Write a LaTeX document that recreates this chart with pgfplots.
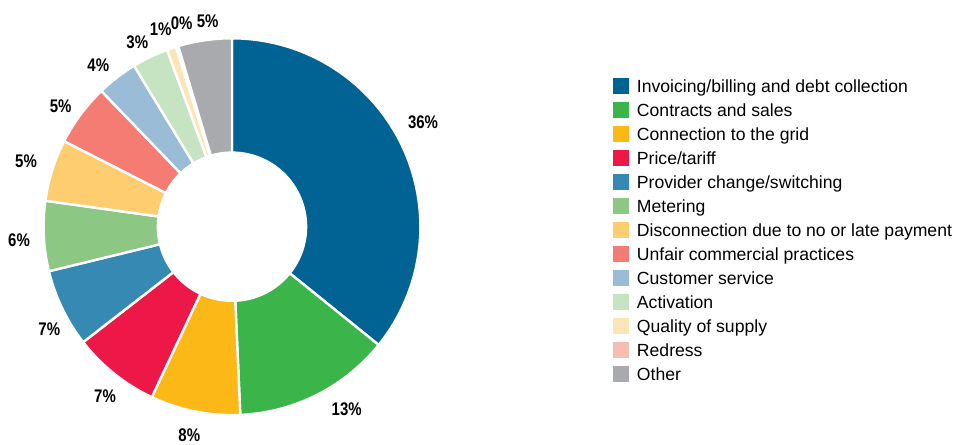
\documentclass[border=0pt]{standalone}
\usepackage{fontspec}
\setmainfont{Liberation Sans}
\newfontfamily\narrowbold[FakeStretch=0.82]{Liberation Sans Bold}
\usepackage{pgfplots}
\usepackage{pgfplotstable}
\pgfplotsset{compat=1.18}

\definecolor{c1}{HTML}{006394}
\definecolor{c2}{HTML}{3BB54A}
\definecolor{c3}{HTML}{FBB817}
\definecolor{c4}{HTML}{ED1847}
\definecolor{c5}{HTML}{3689B3}
\definecolor{c6}{HTML}{8CC884}
\definecolor{c7}{HTML}{FECD6F}
\definecolor{c8}{HTML}{F47C72}
\definecolor{c9}{HTML}{9ABCD7}
\definecolor{c10}{HTML}{C7E4C2}
\definecolor{c11}{HTML}{FEE5B7}
\definecolor{c12}{HTML}{F7BDB1}
\definecolor{c13}{HTML}{A9AAAE}

% label positions (chart pixel units, y upwards)
\pgfplotstableread{
x y lab
423 323.5 36\%
346.7 35.7 13\%
189.3 10 8\%
105 49 7\%
49.3 115.7 7\%
19 205 6\%
26 284.3 5\%
60.7 339 5\%
98.3 380 4\%
137.3 403.3 3\%
160.7 415.7 1\%
181.7 422.3 0\%
207.7 424.3 5\%
}\labeltable

\def\cum{0}
% t = 0..50: outer arc from start to end; t = 51..101: inner arc back
\newcommand\drawslice[3]{%
  \addplot[fill=#1]
   ({232+ifthenelse(\t<50.5,188.4,74.1)*cos(90-3.6*ifthenelse(\t<50.5,#2+(#3-#2)*\t/50,#3+(#2-#3)*(\t-51)/50))},
    {218.3+ifthenelse(\t<50.5,188.4,74.1)*sin(90-3.6*ifthenelse(\t<50.5,#2+(#3-#2)*\t/50,#3+(#2-#3)*(\t-51)/50))}) -- cycle;
}
\newcommand\slice[3]{% colour, share in %, legend text
  \pgfmathsetmacro\cB{\cum+#2}%
  \edef\doslice{\noexpand\drawslice{#1}{\cum}{\cB}}\doslice
  \addlegendentry{#3}%
  \xdef\cum{\cB}%
}

\begin{document}
\begin{tikzpicture}
\begin{axis}[
  x=0.75pt, y=0.75pt,
  xmin=0, xmax=953, ymin=0, ymax=445,
  hide axis, clip=false,
  variable=\t,
  samples at={0,1,...,101},
  every axis plot/.append style={draw=white, line width=1.8pt},
  legend image code/.code={\fill[draw=none] (0pt,-6pt) rectangle (12pt,6pt);},
  legend cell align=left,
  legend style={at={(axis cs:612.7,366.7)}, anchor=north west,
    draw=none, fill=none, inner sep=0pt, outer sep=0pt,
    row sep=6pt, column sep=6.2pt,
    font=\fontsize{13.2pt}{15pt}\selectfont,
    nodes={inner sep=0pt, outer sep=0pt, text height=9.45pt, text depth=0pt}},
]
\addplot[forget plot, draw=none, mark=none] coordinates {(0,0) (953,445)};

\slice{c1}{35.8}{Invoicing/billing and debt collection}
\slice{c2}{13.5}{Contracts and sales}
\slice{c3}{7.7}{Connection to the grid}
\slice{c4}{7.5}{Price/tariff}
\slice{c5}{6.7}{Provider change/switching}
\slice{c6}{6.0}{Metering}
\slice{c7}{5.3}{Disconnection due to no or late payment}
\slice{c8}{5.3}{Unfair commercial practices}
\slice{c9}{3.5}{Customer service}
\slice{c10}{3.1}{Activation}
\slice{c11}{0.8}{Quality of supply}
\slice{c12}{0.2}{Redress}
\slice{c13}{4.6}{Other}

\addplot[forget plot, only marks, mark=none, draw=none,
  point meta=explicit symbolic, nodes near coords,
  every node near coord/.style={anchor=center, inner sep=0pt,
    text height=9.8pt, text depth=0pt, text=black,
    font=\narrowbold\fontsize{13.7pt}{16pt}\selectfont}]
  table[x=x, y=y, meta=lab] {\labeltable};
\end{axis}
\end{tikzpicture}
\end{document}
